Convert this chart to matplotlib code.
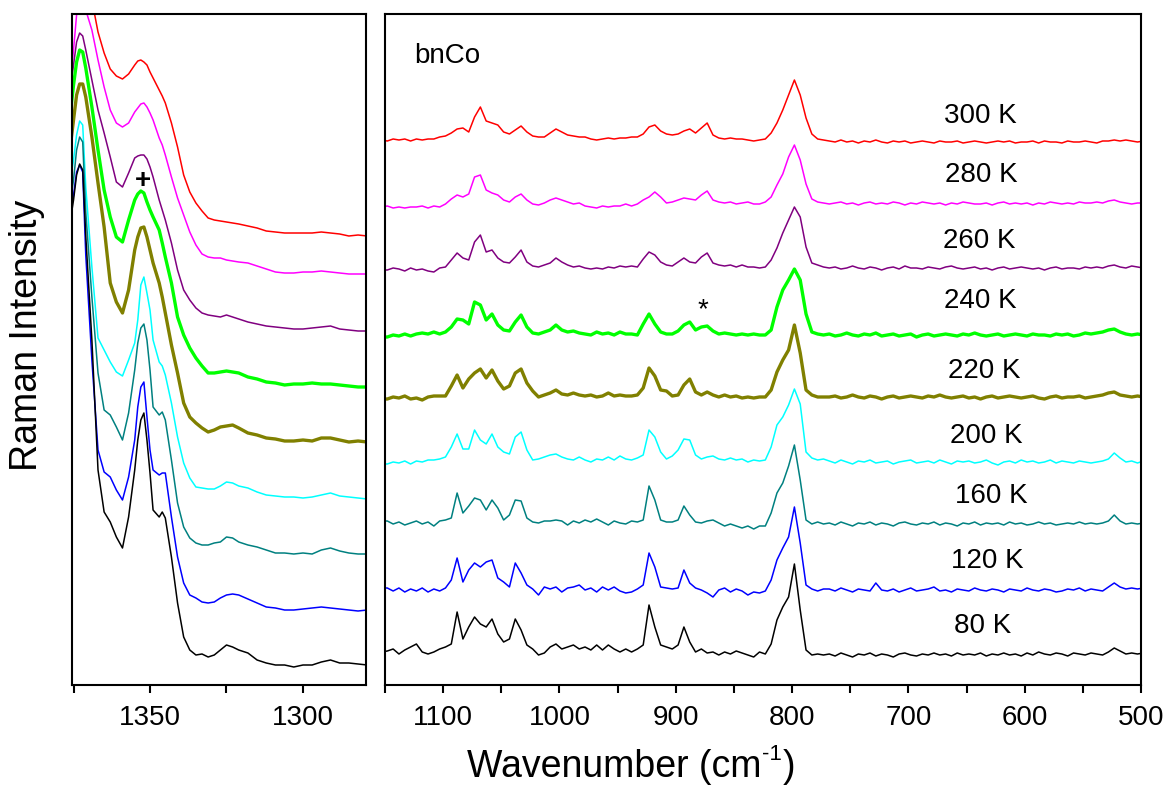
import numpy as np
import matplotlib
matplotlib.use("Agg")
import matplotlib.pyplot as plt
from matplotlib.ticker import FixedLocator, NullLocator

plt.rcParams['font.family'] = ['Liberation Sans', 'DejaVu Sans']

# ---------------- data ----------------
TEMPS = ['300 K', '280 K', '260 K', '240 K', '220 K', '200 K', '160 K', '120 K', '80 K']
COLORS = ['#FF0000', '#FF00FF', '#800080', '#00FF00', '#808000',
          '#00FFFF', '#008080', '#0000FF', '#000000']
WIDTHS = [1.1, 1.1, 1.1, 2.4, 2.4, 1.1, 1.1, 1.1, 1.1]

# right panel: wavenumber grid (cm-1) and intensities above each trace's baseline
WN_RIGHT = np.arange(1153, 497, -5)

R_300 = [0, -1, 1, 0, 1, -1, 1, 0, 1, 1,
         3, 4, 7, 11, 12, 8, 23, 33, 19, 17,
         15, 8, 6, 10, 14, 8, 4, 3, 3, 7,
         11, 8, 5, 4, 3, 3, 1, 0, 1, 2,
         1, 2, 2, 3, 3, 6, 13, 15, 9, 6,
         5, 6, 9, 11, 7, 12, 17, 5, 2, 1,
         2, 1, 1, 0, -1, 0, 1, 7, 17, 30,
         45, 60, 45, 22, 6, 1, 0,
         -1, -2, 0, -2, -1, -3, -1, -2, 0, -2, -3, -1, -2, -1, -3,
         -2, -1, -2, -3, -1, -2, -2, -1, -3, -2, -1, -2, -3, -2, -1,
         -2, -1, -3, -2, -2, -1, -3, -1, -2, -2, -3, -1, -2, -2, -1,
         -2, -3, -1, -1, 0, -1, 0, -1, -2, -1]
R_280 = [0, 1, -1, 0, -1, 0, 0, 1, -1, 1,
         0, 3, 8, 12, 10, 13, 30, 32, 17, 14,
         12, 7, 5, 10, 13, 7, 3, 2, 4, 7,
         9, 7, 5, 3, 4, 1, 0, -1, 1, 0,
         1, 1, 3, 1, 3, 7, 10, 15, 10, 4,
         5, 7, 9, 8, 7, 12, 16, 7, 5, 4,
         5, 3, 4, 5, 3, 3, 5, 10, 22, 33,
         50, 62, 47, 23, 8, 5, 4,
         3, 4, 5, 3, 4, 2, 4, 5, 3, 4, 3, 5, 4, 2, 4,
         3, 5, 4, 3, 4, 2, 4, 3, 5, 4, 3, 3, 4, 2, 4,
         5, 3, 4, 3, 4, 2, 4, 3, 5, 4, 3, 4, 3, 5, 4,
         4, 5, 4, 6, 7, 5, 4, 3, 4, 4]
R_260 = [0, 0, 2, 1, -1, 2, 0, 1, -1, -2,
         2, 3, 10, 17, 12, 10, 28, 35, 18, 20,
         12, 8, 7, 13, 20, 8, 4, 3, 5, 7,
         12, 8, 5, 3, 4, 2, 1, 2, 1, 3,
         2, 4, 3, 4, 3, 11, 18, 15, 8, 5,
         4, 8, 12, 8, 7, 13, 17, 7, 5, 4,
         5, 3, 5, 3, 3, 2, 3, 10, 22, 37,
         50, 63, 53, 23, 7, 5, 3,
         2, 3, 1, 2, 4, 2, 1, 3, 2, 0, 2, 3, 1, 4, 2,
         2, 1, 3, 2, 1, 3, 4, 2, 1, 2, 3, 1, 2, 0, 2,
         3, 1, 2, 3, 2, 1, 2, 0, 2, 3, 1, 2, 2, 1, 3,
         2, 3, 2, 4, 5, 3, 2, 4, 3, 2]
R_240 = [0, 0, 2, 1, 3, 1, 3, 4, 3, 5,
         3, 5, 10, 18, 17, 13, 35, 32, 17, 23,
         12, 7, 6, 15, 22, 10, 4, 3, 5, 7,
         12, 7, 5, 6, 4, 3, 2, 5, 3, 4,
         2, 5, 3, 3, 2, 13, 23, 13, 5, 3,
         3, 6, 12, 15, 7, 10, 11, 6, 3, 4,
         3, 2, 3, 2, 3, 2, 2, 7, 30, 47,
         57, 68, 57, 23, 5, 3, 2,
         3, 1, 2, 4, 2, 1, 3, 2, 4, 1, 2, 3, 1, 2, 3,
         0, 2, 3, 1, 2, 3, 2, 1, 3, 2, 4, 2, 1, 2, 3,
         1, 2, 3, 2, 1, 3, 2, 2, 1, 3, 2, 3, 1, 2, 4,
         3, 4, 5, 7, 8, 5, 3, 2, 3, 2]
R_220 = [-1, -1, 1, 0, 2, -1, 0, -2, 1, 2,
         2, 2, 12, 23, 10, 19, 25, 29, 20, 28,
         17, 9, 12, 25, 29, 15, 7, 1, 3, 5,
         8, 4, 3, 5, 3, 2, 3, 1, 2, 5,
         2, 3, 2, 2, 3, 10, 30, 22, 8, 7,
         2, 3, 13, 19, 6, 3, 6, 3, 1, 3,
         1, 2, 0, 1, 0, 1, 1, 8, 26, 38,
         48, 73, 45, 8, 3, 1, 1,
         1, 2, 0, 1, 3, 1, 0, 2, 1, -1, 1, 2, 0, 1, 2,
         1, 0, 2, 1, 3, 1, 0, 1, 2, 0, 1, -1, 1, 2, 0,
         1, 2, 1, 0, 1, 2, 0, -1, 1, 2, 0, 1, 1, 2, 0,
         1, 2, 3, 5, 6, 3, 2, 1, 2, 1]
R_200 = [-2, -2, 0, -1, 1, -2, 1, 0, 2, 2,
         3, 5, 15, 28, 13, 13, 32, 22, 18, 28,
         15, 10, 8, 25, 30, 12, 2, 3, 5, 7,
         8, 5, 3, 2, 5, 2, 0, 3, 2, 5,
         2, 6, 3, 2, 4, 7, 32, 25, 10, 3,
         6, 12, 23, 22, 7, 3, 5, 6, 3, 2,
         4, 2, 3, 0, 2, 1, 2, 15, 37, 45,
         57, 73, 58, 10, 4, 2, 3,
         1, -1, 2, 0, -2, 1, 0, 2, -1, 0, 1, -2, 0, 1, 2,
         -1, 0, 1, -1, 2, 0, -2, 1, 0, 1, -1, 0, 2, -1, -3,
         0, 1, -1, 2, 0, 1, -1, 0, 2, -1, 1, 0, -1, 1, 0,
         -1, 0, 1, 3, 9, 4, 0, 1, -1, 1]
R_160 = [2, 2, -1, 1, -2, 0, 2, -1, 1, -3,
         2, 3, 5, 30, 10, 17, 25, 23, 13, 23,
         15, 3, 8, 23, 22, 5, 1, 0, 2, 2,
         3, 2, -2, 2, 0, 3, 1, 4, 1, -2,
         2, 0, -1, 2, 1, 3, 37, 23, 3, 1,
         1, 3, 17, 8, 1, 0, 2, 3, 0, -3,
         -1, -3, -5, -3, -6, -3, -3, 10, 30, 40,
         57, 78, 43, 3, -1, 1, -1,
         0, -2, 1, -1, -3, 0, -1, 1, -2, 0, -1, -3, 0, 1, -1,
         -2, 0, -1, 1, -2, 0, -1, -3, 0, -1, 1, -2, 0, -1, 0,
         -2, 1, -1, 0, -2, -1, 1, -1, 0, -2, -1, 0, -1, 1, -1,
         0, -1, 0, 2, 8, 2, -1, 0, -1, 0]
R_120 = [2, 2, -1, 2, -2, 1, -1, 2, -2, 1,
         -1, 2, 10, 32, 8, 20, 27, 23, 28, 30,
         12, 8, 3, 27, 17, 5, 1, -5, 3, 1,
         3, -2, 2, 3, 5, 0, 2, -2, 3, 0,
         3, -1, -3, -2, 1, 5, 37, 23, 3, 2,
         1, 2, 20, 7, 2, 0, -3, -7, 0, 2,
         -2, 1, -1, -5, -2, -3, -1, 10, 30, 42,
         53, 83, 47, 5, 1, -1, 1,
         1, -1, 2, 0, -2, 1, 0, -1, 7, 0, -1, 1, -2, 0, 2,
         -1, 0, 1, 3, -1, 0, -2, 1, 0, -1, 2, 0, -1, 1, 0,
         -2, 1, 0, -1, 2, 0, -1, 1, 0, -2, -1, 1, 0, 2, -1,
         1, 0, -1, 3, 7, 3, 1, 2, 1, 2]
R_80 = [0, 1, 3, -2, 2, 5, 8, 0, -2, 0,
        3, 5, 8, 40, 13, 25, 35, 28, 25, 33,
        18, 10, 13, 33, 22, 7, 3, -3, -1, 5,
        8, 3, 5, 7, 3, 5, 2, 7, 2, 7,
        3, 0, 3, 0, 3, 7, 47, 25, 7, 5,
        3, 7, 25, 10, 0, 3, -1, 0, -3, 0,
        -2, 1, -1, -3, -5, 0, -2, 8, 32, 45,
        55, 88, 42, 2, -3, -2, -3,
        -2, -4, -1, -3, -5, -2, -3, -1, -4, -2, -3, -5, -2, -1, -3,
        -4, -2, -3, -1, -3, -2, -4, -1, -3, -2, -3, -1, -4, -2, -3,
        -1, -3, -2, -4, -1, -3, 0, -2, -3, -1, -2, -4, -1, -2, -3,
        -1, -2, -3, 0, 4, 1, -2, -1, -2, -1]
RIGHT_SERIES = [R_300, R_280, R_260, R_240, R_220, R_200, R_160, R_120, R_80]
RIGHT_OFFSETS = [545, 478, 415, 348, 287, 223, 162, 95, 33]

# left panel: wavenumber grid (cm-1) and intensities above each trace's baseline
WN_LEFT = [1377, 1375, 1374, 1373, 1372, 1371, 1369, 1367, 1365, 1363,
           1361, 1359, 1357, 1355, 1354, 1353, 1352, 1351, 1350, 1349,
           1347, 1346, 1345, 1343, 1341, 1339, 1337, 1335, 1333, 1331,
           1329, 1327, 1325, 1323, 1321, 1318, 1315, 1312, 1309, 1306,
           1303, 1300, 1297, 1294, 1291, 1288, 1285, 1282, 1279]
L_300 = [306, 286, 281, 276, 269, 258, 236, 204, 183, 167,
         160, 157, 162, 171, 175, 176, 174, 171, 164, 158,
         146, 140, 133, 113, 89, 61, 44, 33, 25, 18,
         16, 15, 14, 13, 12, 10, 8, 5, 4, 3,
         3, 3, 3, 4, 3, 2, 0, 1, 0]
L_280 = [164, 224, 259, 289, 284, 264, 244, 214, 187, 164,
         151, 147, 151, 162, 166, 170, 171, 167, 161, 154,
         136, 129, 119, 97, 76, 59, 42, 29, 20, 17,
         16, 16, 14, 13, 12, 11, 8, 5, 2, 1,
         1, 2, 2, 3, 2, 1, 0, 0, 0]
L_260 = [221, 266, 289, 298, 295, 281, 251, 221, 198, 174,
         149, 144, 158, 173, 175, 176, 176, 172, 164, 154,
         131, 121, 111, 88, 61, 41, 31, 23, 18, 16,
         15, 14, 16, 14, 12, 9, 7, 5, 4, 3,
         2, 2, 3, 4, 5, 2, 1, 0, 0]
L_240 = [247, 302, 325, 337, 335, 319, 280, 237, 197, 170,
         150, 145, 167, 187, 193, 196, 194, 185, 177, 170,
         157, 144, 130, 104, 70, 52, 39, 29, 21, 14,
         14, 15, 16, 15, 14, 10, 8, 5, 4, 2,
         3, 3, 4, 3, 3, 2, 1, 0, 0]
L_220 = [272, 322, 347, 358, 358, 345, 305, 259, 215, 159,
         140, 129, 152, 192, 205, 214, 215, 205, 192, 179,
         159, 145, 129, 97, 69, 39, 25, 19, 14, 10,
         12, 15, 16, 17, 14, 9, 7, 4, 3, 1,
         1, 2, 1, 4, 4, 2, 0, 1, 0]
L_200 = [299, 339, 364, 378, 374, 312, 232, 161, 149, 137,
         127, 123, 139, 156, 179, 214, 222, 206, 189, 159,
         137, 133, 124, 96, 62, 36, 21, 12, 11, 10,
         10, 13, 17, 16, 13, 11, 7, 4, 3, 2,
         2, 1, 2, 4, 6, 3, 2, 1, 0]
L_160 = [334, 374, 404, 417, 412, 342, 257, 181, 144, 139,
         127, 114, 141, 184, 211, 226, 230, 214, 184, 147,
         139, 142, 134, 94, 51, 27, 16, 11, 9, 9,
         11, 12, 17, 16, 12, 9, 7, 4, 1, 1,
         0, 1, 0, 4, 6, 3, 1, 0, 0]
L_120 = [380, 415, 438, 445, 438, 355, 250, 160, 138, 133,
         120, 110, 133, 170, 203, 223, 228, 193, 160, 140,
         135, 137, 137, 93, 53, 27, 15, 12, 8, 7,
         8, 12, 15, 16, 15, 11, 7, 3, 2, 0,
         0, 1, 2, 3, 2, 1, 0, -1, 0]
L_80 = [425, 465, 490, 501, 495, 429, 325, 195, 153, 143,
        128, 117, 148, 195, 225, 245, 252, 225, 192, 155,
        148, 153, 147, 108, 62, 28, 15, 10, 11, 8,
        10, 15, 20, 18, 15, 12, 5, 2, 0, 0,
        -2, 0, 0, 3, 5, 2, 2, 1, 0]
LEFT_SERIES = [L_300, L_280, L_260, L_240, L_220, L_200, L_160, L_120, L_80]
LEFT_OFFSETS = [449, 411, 354, 298, 243, 186, 131, 75, 20]

# temperature label anchors (wavenumber, height) in the right panel
LABEL_WN = [638, 637, 639, 638, 635, 633, 629, 632, 636]
LABEL_Y = [562, 503, 437, 377, 307, 242, 182, 117, 52]

for name, arr in zip(TEMPS, RIGHT_SERIES):
    if len(arr) != len(WN_RIGHT):
        raise ValueError(f"right {name}: {len(arr)} vs {len(WN_RIGHT)}")
for name, arr in zip(TEMPS, LEFT_SERIES):
    if len(arr) != len(WN_LEFT):
        raise ValueError(f"left {name}: {len(arr)} vs {len(WN_LEFT)}")

# ---------------- figure ----------------
W, H = 1170, 786
fig = plt.figure(figsize=(W / 100, H / 100), dpi=100)
axL = fig.add_axes([72 / W, 1 - 685 / H, 294 / W, 671 / H])
axR = fig.add_axes([385 / W, 1 - 685 / H, 756 / W, 671 / H])

for vals, off, c, lw in zip(LEFT_SERIES, LEFT_OFFSETS, COLORS, WIDTHS):
    axL.plot(WN_LEFT, np.asarray(vals) + off, color=c, lw=lw, solid_joinstyle='round')
for vals, off, c, lw in zip(RIGHT_SERIES, RIGHT_OFFSETS, COLORS, WIDTHS):
    axR.plot(WN_RIGHT, np.asarray(vals) + off, color=c, lw=lw, solid_joinstyle='round')

axL.set_xlim(1375.5, 1279.4)
axR.set_xlim(1150, 500)
axL.xaxis.set_major_locator(FixedLocator([1350, 1300]))
axL.xaxis.set_minor_locator(FixedLocator([1375, 1325]))
axR.xaxis.set_major_locator(FixedLocator([1100, 1000, 900, 800, 700, 600, 500]))
axR.xaxis.set_minor_locator(FixedLocator([1150, 1050, 950, 850, 750, 650, 550]))

for ax in (axL, axR):
    ax.set_ylim(0, 671)
    ax.yaxis.set_major_locator(NullLocator())
    ax.tick_params(axis='y', left=False, labelleft=False)
    ax.tick_params(axis='x', which='both', direction='out', length=5.5,
                   width=1.5, labelsize=20, pad=9)
    for s in ax.spines.values():
        s.set_linewidth(1.5)

for t, xw, yy in zip(TEMPS, LABEL_WN, LABEL_Y):
    axR.text(xw, yy, t, ha='center', va='baseline', fontsize=20)
axR.text(1125, 622, 'bnCo', ha='left', va='baseline', fontsize=20)
axR.text(876.5, 368, '*', ha='center', va='baseline', fontsize=20)
axL.text(1352.3, 497, '+', ha='center', va='baseline', fontsize=20, fontweight='bold')

fig.text(27 / W, 1 - 335 / H, 'Raman Intensity', rotation=90,
         ha='center', va='center', fontsize=27)

# x label with a small raised "-1" (hyphen style, as in the original)
renderer = fig.canvas.get_renderer()
base_y = 1 - 777 / H
t1 = fig.text(0, base_y, 'Wavenumber (cm', ha='left', va='baseline', fontsize=27)
t2 = fig.text(0, base_y + 17 / H, '-1', ha='left', va='baseline', fontsize=16)
t3 = fig.text(0, base_y, ')', ha='left', va='baseline', fontsize=27)
w1 = t1.get_window_extent(renderer).width
w2 = t2.get_window_extent(renderer).width
w3 = t3.get_window_extent(renderer).width
x0 = 630 - (w1 + w2 + w3) / 2
t1.set_x(x0 / W)
t2.set_x((x0 + w1 + 1) / W)
t3.set_x((x0 + w1 + w2 + 2) / W)

fig.savefig('out.png', dpi=100)
